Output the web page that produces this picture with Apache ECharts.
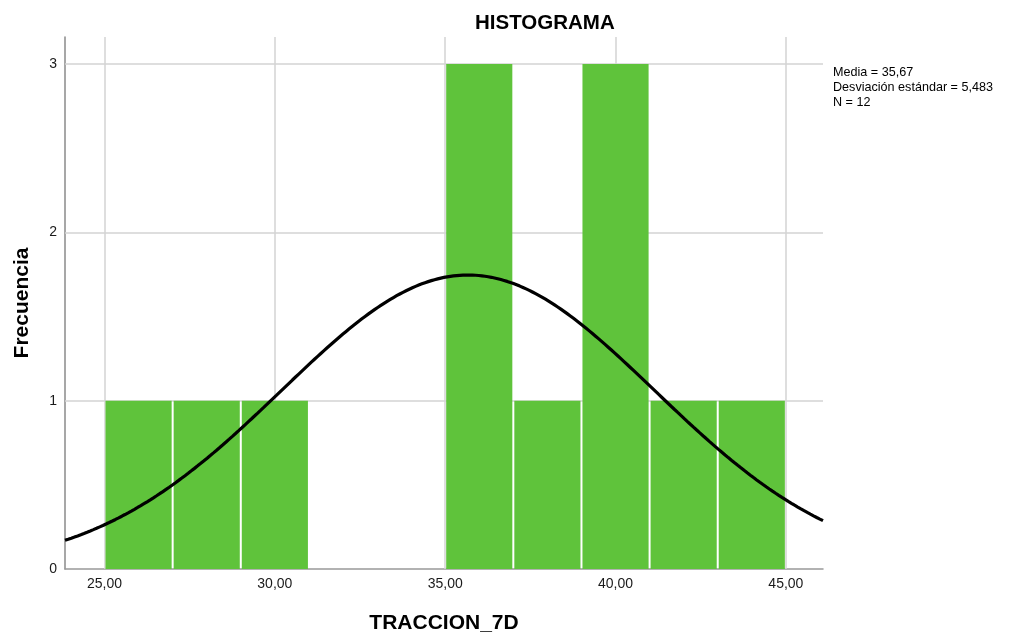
<!DOCTYPE html>
<html>
<head>
<meta charset="utf-8">
<title>HISTOGRAMA</title>
<script src="https://cdn.jsdelivr.net/npm/echarts@6/dist/echarts.min.js"></script>
<style>
  html, body { margin: 0; padding: 0; background: #ffffff; }
  #chart { width: 1017px; height: 634px; }
</style>
</head>
<body>
<div id="chart"></div>
<script>
// Histogram bins for TRACCION_7D (bin width 2) and their frequencies
const binStarts = [25, 27, 29, 31, 33, 35, 37, 39, 41, 43];
const binWidth = 2;
const counts = [1, 1, 1, 0, 0, 3, 1, 3, 1, 1];

// Descriptive statistics shown beside the plot
const mean = 35.67;
const stdDev = 5.483;
const n = counts.reduce((a, b) => a + b, 0);

// Axis ranges and tick values
const xMin = 23.84;
const xMax = 46.09;
const yMin = 0;
const yMax = 3.16;
const xTicks = [25, 30, 35, 40, 45];
const yTicks = [0, 1, 2, 3];

const FONT = "'Liberation Sans', Arial, Helvetica, sans-serif";
const BAR_COLOR = '#5fc33b';
const GRID_COLOR = '#d3d3d3';

// Fitted normal curve, scaled to the histogram's counts (n * bin width * pdf)
function normalCount(x) {
  const z = (x - mean) / stdDev;
  return n * binWidth * Math.exp(-0.5 * z * z) / (stdDev * Math.sqrt(2 * Math.PI));
}
const curveSteps = 240;
const curve = [];
for (let i = 0; i <= curveSteps; i++) {
  const x = xMin + (xMax - xMin) * i / curveSteps;
  curve.push([x, normalCount(x)]);
}

const barData = binStarts.map((s, i) => [s, s + binWidth, counts[i]]);
const fmt = (v, d) => v.toFixed(d).replace('.', ',');

const chart = echarts.init(document.getElementById('chart'), null, { renderer: 'canvas' });

chart.setOption({
  animation: false,
  backgroundColor: '#ffffff',
  grid: { left: 65, right: 194, top: 37, bottom: 65, containLabel: false, outerBoundsMode: 'none' },
  xAxis: {
    type: 'value',
    min: xMin,
    max: xMax,
    name: 'TRACCION_7D',
    nameLocation: 'middle',
    nameGap: 44,
    nameTextStyle: { fontFamily: FONT, fontSize: 21, fontWeight: 'bold', color: '#000' },
    axisLine: { show: true, lineStyle: { color: '#999999', width: 1.5 } },
    axisTick: { show: false },
    splitLine: { show: false },
    axisLabel: {
      customValues: xTicks,
      formatter: v => fmt(v, 2),
      fontFamily: FONT,
      fontSize: 14,
      color: '#1a1a1a',
      margin: 8
    }
  },
  yAxis: {
    type: 'value',
    min: yMin,
    max: yMax,
    name: 'Frecuencia',
    nameLocation: 'middle',
    nameRotate: 90,
    nameGap: 32,
    nameTextStyle: { fontFamily: FONT, fontSize: 21, fontWeight: 'bold', color: '#000' },
    axisLine: { show: true, lineStyle: { color: '#8a8a8a', width: 1.5 } },
    axisTick: { show: false },
    splitLine: { show: false },
    axisLabel: {
      customValues: yTicks,
      formatter: v => String(v),
      fontFamily: FONT,
      fontSize: 14,
      color: '#1a1a1a',
      margin: 8
    }
  },
  graphic: [
    {
      type: 'text',
      left: 475,
      top: 13,
      style: {
        text: 'HISTOGRAMA',
        font: 'bold 20.5px ' + FONT,
        fill: '#000'
      }
    },
    {
      type: 'text',
      left: 833,
      top: 65,
      style: {
        text: 'Media = ' + fmt(mean, 2) + '\nDesviación estándar = ' + fmt(stdDev, 3) + '\nN = ' + n,
        font: '12.6px ' + FONT,
        lineHeight: 15,
        fill: '#000'
      }
    }
  ],
  series: [
    {
      // reference grid lines drawn beneath the bars
      type: 'line',
      data: [],
      z: 1,
      silent: true,
      markLine: {
        silent: true,
        z: 1,
        symbol: ['none', 'none'],
        label: { show: false },
        lineStyle: { color: GRID_COLOR, width: 1.5, type: 'solid' },
        data: xTicks.map(v => ({ xAxis: v }))
          .concat(yTicks.filter(v => v > 0).map(v => ({ yAxis: v })))
      }
    },
    {
      type: 'custom',
      z: 10,
      silent: true,
      data: barData,
      encode: { x: [0, 1], y: 2 },
      renderItem: function (params, api) {
        const c = api.value(2);
        if (!c) return null;
        const topLeft = api.coord([api.value(0), c]);
        const bottomRight = api.coord([api.value(1), 0]);
        return {
          type: 'rect',
          shape: {
            x: topLeft[0] + 1,
            y: topLeft[1],
            width: bottomRight[0] - topLeft[0] - 2,
            height: bottomRight[1] - topLeft[1]
          },
          style: { fill: BAR_COLOR }
        };
      }
    },
    {
      type: 'line',
      z: 12,
      data: curve,
      showSymbol: false,
      symbol: 'none',
      smooth: false,
      silent: true,
      lineStyle: { color: '#000000', width: 3.2 },
      clip: true
    }
  ]
});
</script>
</body>
</html>
